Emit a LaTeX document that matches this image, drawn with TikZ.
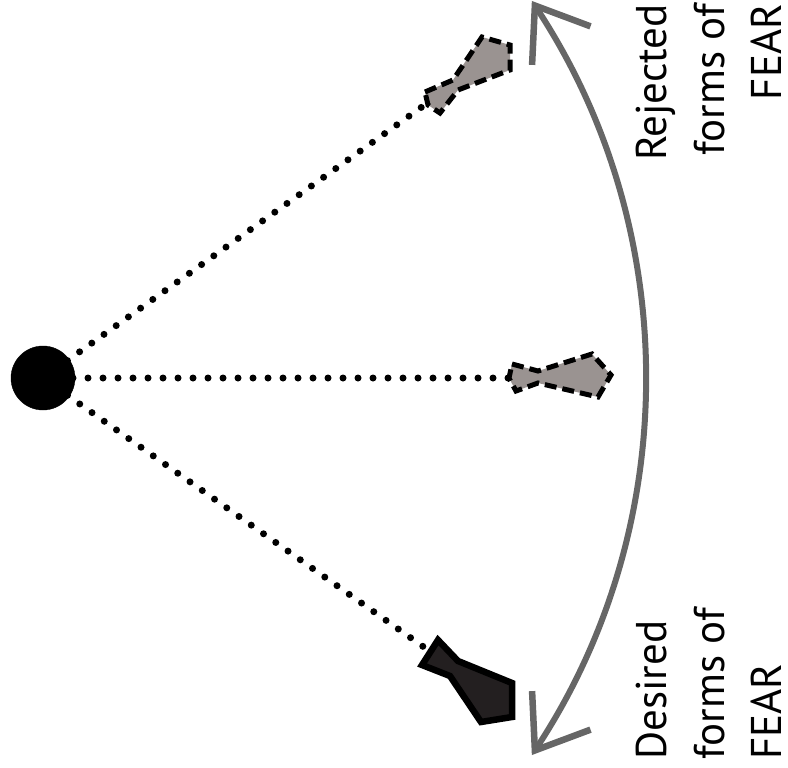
\documentclass[tikz,border=0pt]{standalone}
\usepackage{fontspec}
\setmainfont{PT Sans}
\usepackage{tikz}
\usetikzlibrary{calc, arrows.meta, backgrounds}
\definecolor{shapegrey}{HTML}{9A9391}
\definecolor{shapedark}{HTML}{231F20}
\definecolor{arcgrey}{HTML}{666666}
\tikzstyle{hubdot}=[inner sep=0pt, draw, fill=black, shape=circle, minimum size=64pt]
\tikzstyle{ray}=[line width=7pt, line cap=round, dash pattern=on 0pt off 15pt]
\tikzstyle{rejshape}=[draw=black, fill=shapegrey, line width=5pt, dash pattern=on 12pt off 6pt]
\tikzstyle{desshape}=[draw=black, fill=shapedark, line width=6.5pt]
\tikzstyle{swing}=[draw=arcgrey, line width=6pt, {Straight Barb[length=48pt,width=70pt,line width=6.5pt]}-{Straight Barb[length=48pt,width=70pt,line width=6.5pt]}]
\tikzstyle{lbl}=[inner sep=0pt, rotate=90, font=\fontsize{43}{57.5}\selectfont]
\tikzset{>=stealth}

\begin{document}
\begin{tikzpicture}[x=1pt, y=-1pt]
\useasboundingbox (0,0) rectangle (788,768);
\node[hubdot] (hub) at (43,378) {};
\coordinate (R0) at (426,104);
\coordinate (R1) at (509,378);
\coordinate (D0) at (428,650);
\coordinate (pivot) at (-40,378);

\begin{scope}[on background layer]
\draw[ray] (hub.center) -- (R0);
\draw[ray] (hub.center) -- (R1);
\draw[ray] (hub.center) -- (D0);
\end{scope}

% rejected forms
\draw[rejshape] (425,92) -- (453,80) -- (482,37) -- (510,45) -- (510,70) -- (458,90) -- (440,113) -- (428,105) -- cycle;
\draw[rejshape] (512,364) -- (538,371) -- (592,354) -- (611,375) -- (598,397) -- (538,383) -- (516,391) -- (509,378) -- cycle;
% desired form
\draw[desshape] (438,640) -- (458,661) -- (512,683) -- (512,717) -- (481,722) -- (450,676) -- (422,665) -- cycle;

\draw[swing] ($(pivot)+(-33.4:685)$) arc[start angle=-33.4, end angle=33.4, radius=685];

\node[lbl, align=right, anchor=north east] (rej) at (636,4) {Rejected\\forms of\\FEAR};
\node[lbl, align=left, anchor=north west] (des) at (636,760) {Desired\\forms of\\FEAR};
\end{tikzpicture}
\end{document}
